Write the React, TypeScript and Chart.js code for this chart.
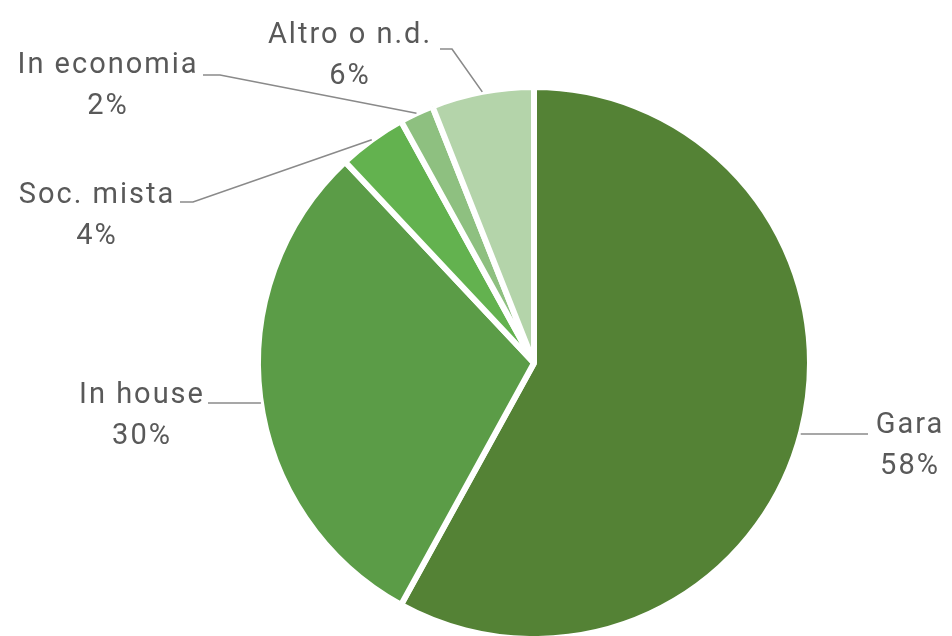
import React, { useEffect, useRef } from "react";
import { Chart, registerables } from "chart.js";

Chart.register(...registerables);

const categories = ["Gara", "In house", "Soc. mista", "In economia", "Altro o n.d."];
const shares = [58, 30, 4, 2, 6];
const sliceColors = ["#548235", "#5b9c47", "#63b24f", "#8ec080", "#b4d4aa"];

// label layout: text centre x, first baseline, leader start, optional elbow, horizontal leader
const labelLayout = [
  { tx: 909, b1: 433, start: [868, 434], elbow: null, horizontal: true },
  { tx: 141, b1: 403, start: [208, 403], elbow: null, horizontal: true },
  { tx: 96, b1: 203, start: [180, 202], elbow: [193, 202], horizontal: false },
  { tx: 107, b1: 73, start: [203, 75], elbow: [220, 75], horizontal: false },
  { tx: 349, b1: 43, start: [440, 49], elbow: [452, 49], horizontal: false },
];

const FONT = '29px Roboto, "DejaVu Sans", sans-serif';
const TEXT_COLOR = "#595959";
const LINE_COLOR = "#8a8a8a";
const LINE_GAP = 41;

const labelPlugin = {
  id: "outsideLabels",
  afterDraw(chart: any) {
    const ctx = chart.ctx;
    const meta = chart.getDatasetMeta(0);
    ctx.save();
    meta.data.forEach((arc: any, i: number) => {
      const L = labelLayout[i];
      if (!L) return;
      const p = arc.getProps(["x", "y", "startAngle", "endAngle", "outerRadius"], true);
      const r = p.outerRadius;
      let end: number[];
      if (L.horizontal) {
        const dy = L.start[1] - p.y;
        const dx = Math.sqrt(Math.max(r * r - dy * dy, 0));
        end = [L.start[0] > p.x ? p.x + dx : p.x - dx, L.start[1]];
      } else {
        const mid = (p.startAngle + p.endAngle) / 2;
        end = [p.x + r * Math.cos(mid), p.y + r * Math.sin(mid)];
      }
      ctx.beginPath();
      ctx.strokeStyle = LINE_COLOR;
      ctx.lineWidth = 1.6;
      ctx.moveTo(L.start[0], L.start[1]);
      if (L.elbow) ctx.lineTo(L.elbow[0], L.elbow[1]);
      ctx.lineTo(end[0], end[1]);
      ctx.stroke();

      ctx.fillStyle = TEXT_COLOR;
      ctx.font = FONT;
      (ctx as any).letterSpacing = "2px";
      ctx.textAlign = "center";
      ctx.textBaseline = "alphabetic";
      ctx.fillText(categories[i], L.tx + 1, L.b1);
      ctx.fillText(shares[i] + "%", L.tx + 1, L.b1 + LINE_GAP);
    });
    ctx.restore();
  },
};

export default function App() {
  const ref = useRef<HTMLCanvasElement | null>(null);
  useEffect(() => {
    if (!ref.current) return;
    const chart = new Chart(ref.current, {
      type: "pie",
      data: {
        labels: categories,
        datasets: [
          {
            data: shares,
            backgroundColor: sliceColors,
            borderColor: "#ffffff",
            borderWidth: 6,
            clip: false as any,
          },
        ],
      },
      options: {
        animation: false,
        responsive: true,
        maintainAspectRatio: false,
        radius: 276,
        layout: { padding: { top: 90, bottom: 0, left: 258, right: 142 } },
        plugins: {
          legend: { display: false },
          tooltip: { enabled: false },
        },
      } as any,
      plugins: [labelPlugin],
    });
    return () => chart.destroy();
  }, []);
  return (
    <div style={{ position: "fixed", left: 0, top: 0, width: 952, height: 636, background: "#ffffff" }}>
      <canvas ref={ref} />
    </div>
  );
}
